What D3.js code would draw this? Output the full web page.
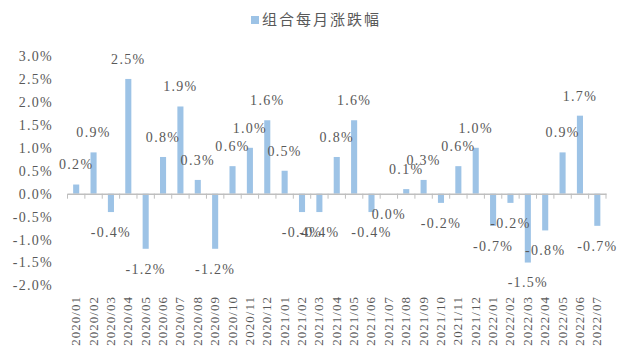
<!DOCTYPE html>
<html><head><meta charset="utf-8">
<script src="https://cdn.jsdelivr.net/npm/d3@7"></script>
<style>body{margin:0;background:#fff}svg{display:block}</style>
</head><body>
<script>
const months = ["2020/01","2020/02","2020/03","2020/04","2020/05","2020/06","2020/07","2020/08","2020/09","2020/10","2020/11","2020/12",
"2021/01","2021/02","2021/03","2021/04","2021/05","2021/06","2021/07","2021/08","2021/09","2021/10","2021/11","2021/12",
"2022/01","2022/02","2022/03","2022/04","2022/05","2022/06","2022/07"];
const returns = [0.2,0.9,-0.4,2.5,-1.2,0.8,1.9,0.3,-1.2,0.6,1.0,1.6,
0.5,-0.4,-0.4,0.8,1.6,-0.4,0.0,0.1,0.3,-0.2,0.6,1.0,
-0.7,-0.2,-1.5,-0.8,0.9,1.7,-0.7];
const yTicks = [3.0,2.5,2.0,1.5,1.0,0.5,0.0,-0.5,-1.0,-1.5,-2.0];
const seriesName = "组合每月涨跌幅";

const W=624,H=357;
const svg=d3.select("body").append("svg").attr("width",W).attr("height",H);
const x=d3.scaleBand().domain(months).range([67.5,606]).paddingInner(0.65).paddingOuter(0.325);
const y=d3.scaleLinear().domain([-2,3]).range([285.5,56]);
const serif="'Liberation Serif','DejaVu Serif',serif";
const txt="#595959";

// y axis labels
svg.append("g").selectAll("text").data(yTicks).join("text")
  .attr("x",53).attr("y",d=>y(d)).attr("dy","0.35em").attr("text-anchor","end")
  .attr("font-family",serif).attr("font-size",14).attr("letter-spacing",1.3).attr("fill",txt)
  .text(d=>d.toFixed(1)+"%");

// bars
svg.append("g").selectAll("rect").data(returns).join("rect")
  .attr("x",(d,i)=>x(months[i])).attr("width",x.bandwidth())
  .attr("y",d=>y(Math.max(0,d))).attr("height",d=>Math.abs(y(d)-y(0)))
  .attr("fill","#9dc3e6");

// x axis
const xa=svg.append("g").attr("transform",`translate(0,${y(0)})`)
  .call(d3.axisBottom(x).tickSize(0).tickFormat(""));
xa.select(".domain").attr("stroke","#bfbfbf").attr("stroke-width",1.5);
const step=x.step();
svg.append("g").selectAll("line").data(d3.range(months.length+1)).join("line")
  .attr("x1",i=>67.5+i*step).attr("x2",i=>67.5+i*step)
  .attr("y1",y(0)).attr("y2",y(0)+5).attr("stroke","#bfbfbf");

// x labels
svg.append("g").selectAll("text").data(months).join("text")
  .attr("transform",d=>`translate(${x(d)+x.bandwidth()/2+4},296) rotate(-90)`)
  .attr("text-anchor","end").attr("font-family",serif).attr("font-size",13).attr("letter-spacing",1)
  .attr("fill",txt).text(d=>d);

// data labels
svg.append("g").selectAll("text").data(returns).join("text")
  .attr("x",(d,i)=>x(months[i])+x.bandwidth()/2)
  .attr("y",d=>d>0? y(d)-20 : y(d)+20).attr("dy","0.35em")
  .attr("text-anchor","middle").attr("font-family",serif).attr("font-size",14).attr("letter-spacing",1.3)
  .attr("fill",txt).text(d=>d.toFixed(1)+"%");

// legend
svg.append("rect").attr("x",251).attr("y",16).attr("width",8).attr("height",8).attr("fill","#9dc3e6");
svg.append("text").attr("x",262).attr("y",20).attr("dy","0.35em")
  .attr("font-family","'Noto Sans CJK SC',sans-serif").attr("font-size",15).attr("letter-spacing",2)
  .attr("fill",txt).text(seriesName);
</script>
</body></html>
